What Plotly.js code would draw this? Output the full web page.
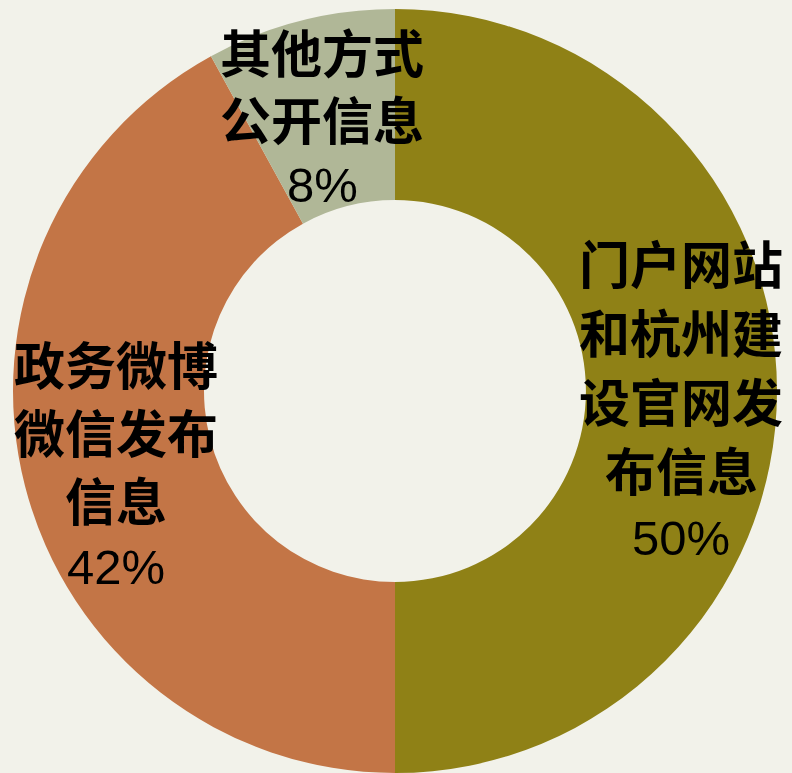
<!DOCTYPE html>
<html>
<head>
<meta charset="utf-8">
<script src="https://cdn.plot.ly/plotly-3.0.1.min.js"></script>
<style>html,body{margin:0;padding:0;background:#f2f2ea;}#chart{width:792px;height:773px;}</style>
</head>
<body>
<div id="chart"></div>
<script>
// Data
const categories = ["门户网站和杭州建设官网发布信息", "政务微博微信发布信息", "其他方式公开信息"];
const values = [50, 42, 8];
const percentLabels = ["50%", "42%", "8%"];
const labelLines = [
  ["门户网站", "和杭州建", "设官网发", "布信息"],
  ["政务微博", "微信发布", "信息"],
  ["其他方式", "公开信息"]
];
const colors = ["#8f8116", "#c37546", "#b0b797"];

// label layout (pixel centers of first line, line step)
const W = 792, H = 773;
const labelPos = [
  {x: 681, y: 262, step: 69},
  {x: 116, y: 363, step: 68},
  {x: 322, y: 51, step: 67}
];

const annotations = [];
labelLines.forEach((lines, i) => {
  const all = lines.concat([percentLabels[i]]);
  all.forEach((t, j) => {
    const isPct = j === all.length - 1;
    annotations.push({
      text: t,
      xref: "paper", yref: "paper",
      x: labelPos[i].x / W,
      y: 1 - (labelPos[i].y + j * labelPos[i].step) / H,
      xanchor: "center", yanchor: "middle",
      showarrow: false,
      font: isPct ? {family: "Liberation Sans, Arial, sans-serif", size: 49, color: "#000"}
                  : {family: "Noto Sans CJK SC, sans-serif", size: 51, color: "#000", weight: 700}
    });
  });
});

const trace = {
  type: "pie",
  labels: categories,
  values: values,
  hole: 0.5,
  sort: false,
  direction: "clockwise",
  rotation: 0,
  marker: {colors: colors, line: {width: 0}},
  textinfo: "none",
  hoverinfo: "label+percent",
  domain: {x: [13 / W, 777 / W], y: [0, 764 / H]},
  showlegend: false
};

const layout = {
  width: W, height: H,
  margin: {l: 0, r: 0, t: 0, b: 0},
  paper_bgcolor: "#f2f2ea",
  plot_bgcolor: "#f2f2ea",
  showlegend: false,
  annotations: annotations
};

Plotly.newPlot("chart", [trace], layout, {displayModeBar: false, staticPlot: true});
</script>
</body>
</html>
